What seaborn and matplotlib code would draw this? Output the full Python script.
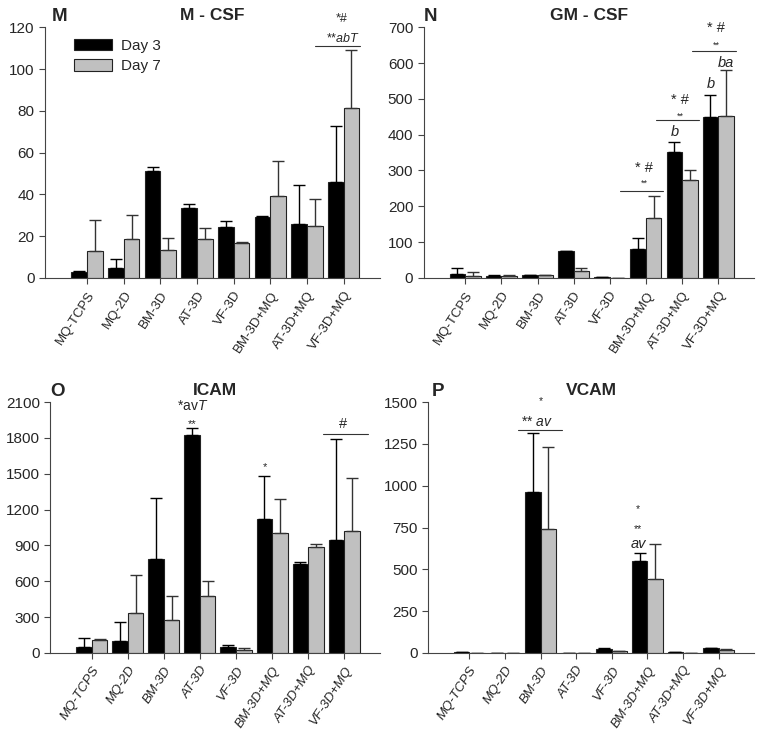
import numpy as np
import pandas as pd
import seaborn as sns
import matplotlib.pyplot as plt

sns.set_style("ticks")
plt.rcParams['font.family'] = ['Liberation Sans', 'DejaVu Sans']
plt.rcParams['mathtext.fontset'] = 'custom'
plt.rcParams['mathtext.rm'] = 'Liberation Sans'
plt.rcParams['mathtext.it'] = 'Liberation Sans:italic'

groups = ['MQ-TCPS', 'MQ-2D', 'BM-3D', 'AT-3D', 'VF-3D', 'BM-3D+MQ', 'AT-3D+MQ', 'VF-3D+MQ']
days = ['Day 3', 'Day 7']

# M - CSF
mcsf_d3 = [2.7, 4.6, 51.3, 33.5, 24.4, 29.3, 25.8, 46.1]
mcsf_d3_err = [0.8, 4.6, 1.9, 1.9, 2.9, 0.3, 18.7, 26.4]
mcsf_d7 = [12.7, 18.6, 13.2, 18.8, 16.9, 39.2, 24.7, 81.1]
mcsf_d7_err = [14.9, 11.7, 5.8, 5.3, 0.2, 16.7, 13.2, 27.9]

# GM - CSF
gmcsf_d3 = [12, 4.6, 7.4, 74.4, 1, 80, 352, 448]
gmcsf_d3_err = [15, 4.7, 1, 0.6, 1, 30.6, 27, 62]
gmcsf_d7 = [6.5, 6.5, 7.4, 20.5, 0, 167, 273, 452.7]
gmcsf_d7_err = [9.5, 2.8, 1, 6.5, 0, 61.7, 27, 129]

# ICAM
icam_d3 = [47, 103, 787, 1825, 53, 1124, 748, 943]
icam_d3_err = [75, 156, 506, 61, 14, 356, 14, 846]
icam_d7 = [106, 331, 278, 473, 28, 1007, 885, 1024]
icam_d7_err = [11, 323, 203, 133, 11, 278, 25, 442]

# VCAM
vcam_d3 = [6, 2, 964, 0, 24, 550, 4, 28]
vcam_d3_err = [1, 0, 349, 0, 6, 48, 1, 4]
vcam_d7 = [2, 2, 743, 2, 10, 445, 2, 18]
vcam_d7_err = [0, 0, 491, 0, 4, 205, 0, 4]

colors = ['#000000', '#c0c0c0']

fig = plt.figure(figsize=(7.62, 7.37), dpi=100)
axM = fig.add_axes([0.059, 0.623, 0.44, 0.340])
axN = fig.add_axes([0.556, 0.623, 0.434, 0.340])
axO = fig.add_axes([0.066, 0.114, 0.433, 0.3405])
axP = fig.add_axes([0.562, 0.114, 0.428, 0.3405])

panels = [
    (axM, 'M', 'M - CSF', mcsf_d3, mcsf_d3_err, mcsf_d7, mcsf_d7_err, 120, 20, False, 0.02),
    (axN, 'N', 'GM - CSF', gmcsf_d3, gmcsf_d3_err, gmcsf_d7, gmcsf_d7_err, 700, 100, False, 0.0),
    (axO, 'O', 'ICAM', icam_d3, icam_d3_err, icam_d7, icam_d7_err, 2100, 300, True, 0.0),
    (axP, 'P', 'VCAM', vcam_d3, vcam_d3_err, vcam_d7, vcam_d7_err, 1500, 250, True, 0.01),
]

for ax, letter, title, d3, e3, d7, e7, ymax, ystep, ital, lx in panels:
    df = pd.DataFrame({
        'Group': groups * 2,
        'Day': [days[0]] * 8 + [days[1]] * 8,
        'Value': d3 + d7,
    })
    sns.barplot(data=df, x='Group', y='Value', hue='Day', order=groups,
                hue_order=days, palette=colors, width=0.86, errorbar=None,
                edgecolor='#222222', linewidth=0.8, saturation=1, ax=ax)
    for cont, errs, ec in zip(ax.containers, [e3, e7], ['#000000', '#333333']):
        xs = [b.get_x() + b.get_width() / 2 for b in cont]
        hs = [b.get_height() for b in cont]
        ax.errorbar(xs, hs, yerr=[np.zeros(len(errs)), errs], fmt='none',
                    ecolor=ec, elinewidth=1, capsize=4, capthick=1, zorder=1)
    ax.set_xlim(-1.15, 8.0)
    ax.set_ylim(0, ymax)
    ax.set_yticks(np.arange(0, ymax + 1, ystep))
    ax.set_xlabel('')
    ax.set_ylabel('')
    ax.set_xticks(range(len(groups)))
    ax.set_xticklabels(groups, rotation=57, ha='right', rotation_mode='anchor',
                       fontsize=9.5, style='italic' if ital else 'normal')
    ax.tick_params(axis='y', labelsize=11, length=4, width=0.8, color='#444444')
    ax.tick_params(axis='x', length=4, width=0.8, color='#444444', pad=4)
    for s in ['top', 'right']:
        ax.spines[s].set_visible(False)
    for s in ['left', 'bottom']:
        ax.spines[s].set_linewidth(0.8)
        ax.spines[s].set_color('#444444')
    leg = ax.get_legend()
    if leg is not None:
        leg.remove()
    ax.set_title(title, fontsize=12.5, fontweight='bold', pad=5)
    ax.text(lx, 1.01, letter, transform=ax.transAxes,
            fontsize=13.5, fontweight='bold', ha='left', va='bottom')

# legend in panel M
handles = [plt.Rectangle((0, 0), 1, 1, facecolor=c, edgecolor='#222222', linewidth=0.8) for c in colors]
axM.legend(handles, days, loc='upper left', bbox_to_anchor=(0.045, 1.01), frameon=False,
           fontsize=11, handlelength=2.5, handleheight=0.75, labelspacing=0.45,
           handletextpad=0.6)

ann = dict(ha='center', va='center')

# M annotations
axM.plot([7 - 0.77, 7 + 0.44], [111, 111], color='#333333', lw=0.8)
axM.text(6.98, 114.5, r'**$\mathit{abT}$', fontsize=9, **ann)
axM.text(6.96, 124, '*#', fontsize=9, **ann)

# N annotations
for gx, yline, ystars, yhash in [(5, 244, 263, 307), (6, 440, 451, 497), (7, 633, 651, 697)]:
    axN.plot([gx - 0.72, gx + 0.48], [yline, yline], color='#333333', lw=0.8)
    axN.text(gx - 0.05, ystars, '**', fontsize=6.5, **ann)
    axN.text(gx - 0.05, yhash, '* #', fontsize=10.5, **ann)
axN.text(6 - 0.21, 407, 'b', fontsize=10.5, style='italic', **ann)
axN.text(7 - 0.21, 542, 'b', fontsize=10.5, style='italic', **ann)
axN.text(7 + 0.2, 601, 'ba', fontsize=10.5, style='italic', **ann)

# O annotations
axO.text(3 - 0.21, 1919, '**', fontsize=8, **ann)
axO.text(3 - 0.2, 2067, r'*av$\mathit{T}$', fontsize=10, **ann)
axO.text(5 - 0.21, 1552, '*', fontsize=8, **ann)
axO.plot([7 - 0.6, 7 + 0.65], [1836, 1836], color='#333333', lw=0.8)
axO.text(7 - 0.02, 1919, '#', fontsize=10.5, **ann)

# P annotations
axP.plot([2 - 0.63, 2 + 0.6], [1331, 1331], color='#333333', lw=0.8)
axP.text(2 - 0.1, 1383, r'** $\mathit{av}$', fontsize=10, **ann)
axP.text(2, 1506, '*', fontsize=7.5, **ann)
axP.text(5 - 0.28, 858, '*', fontsize=7.5, **ann)
axP.text(5 - 0.26, 741, '**', fontsize=7.5, **ann)
axP.text(5 - 0.24, 652, 'av', fontsize=10.5, style='italic', **ann)

fig.savefig('out.png', dpi=100)
